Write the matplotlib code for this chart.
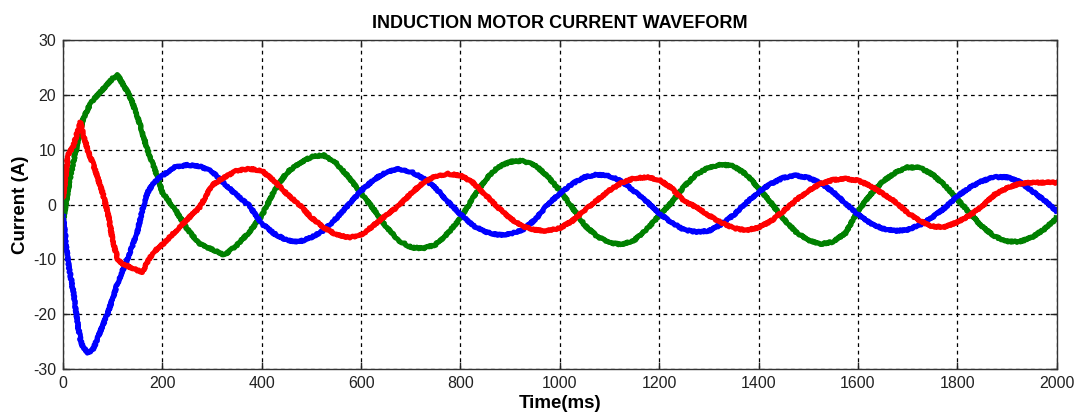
import numpy as np
import matplotlib.pyplot as plt

# sample times (ms), dense during the start-up transient
time_ms = [0, 10, 20, 30, 35, 40, 50, 60, 70, 80, 90, 100, 110, 120, 130,
           140, 150, 160, 170, 180, 190, 200] + list(range(225, 2001, 25))

# phase currents (A)
phase_green = [-3, 2.5, 7.5, 11.5, 13.5, 15.5, 17.5, 19, 20, 21, 22, 23, 23.6,
               22, 20.5, 18.5, 16, 13, 10, 7.5, 5, 2.2,
               -0.8, -4.5, -7.2, -8.2, -9.2, -7.4, -5, -2, 2.5, 5.8, 7.5, 8.7,
               9, 7.5, 5, 2, -0.8, -4, -6.5, -7.8, -8, -7.3, -5.2, -2.5, 1.2,
               4.5, 6.8, 7.8, 8, 7.2, 5.2, 2.5, -0.5, -3.8, -5.8, -7, -7.3,
               -6.5, -4.5, -2, 0.4, 3.3, 5.5, 6.8, 7.3, 7, 5.5, 3, 0.3, -2.6,
               -5, -6.5, -7.2, -6.8, -5.2, -1.2, 1.8, 4.2, 5.8, 6.8, 6.7, 5.5,
               3.5, 1, -1.6, -4, -5.8, -6.7, -6.8, -6, -4.5, -2.5]

phase_blue = [-2, -10.5, -15.5, -22, -24.7, -26, -27, -26.5, -24.3, -22, -19.8,
              -17, -14.3, -12, -9.8, -7.5, -4.8, -0.8, 2.2, 3.6, 4.6, 5.3,
              6.8, 7.2, 7, 6, 3.8, 1.7, -0.2, -3.5, -5.3, -6.5, -6.8, -6,
              -4.7, -2.5, 0, 2.5, 4.5, 5.9, 6.5, 6, 4.8, 3, 0.5, -1.8, -3.8,
              -5, -5.5, -5.4, -4.6, -2.8, 0, 2, 3.8, 5, 5.5, 5.2, 4.2, 2.4,
              0.5, -1.6, -3.3, -4.6, -5, -4.8, -3.6, -1.9, 0.3, 2.3, 3.8, 4.9,
              5.3, 4.9, 3.9, 2.3, 0.2, -1.8, -3.4, -4.4, -4.8, -4.6, -3.7,
              -2.3, -0.6, 1.5, 3.1, 4.3, 5, 5, 4.2, 2.5, 0.8, -1.2]

phase_red = [1.3, 9, 10.5, 13.5, 15, 13, 9.8, 7.5, 4.8, 2, -1.5, -6.5, -10,
             -10.8, -11.2, -11.6, -12, -12.3, -10.5, -9, -8, -7.3,
             -5, -2.7, -0.5, 3.5, 5, 6.2, 6.5, 6.2, 4.3, 2, 0, -2.4, -4.2,
             -5.5, -6, -5.6, -3.8, -2, -0.3, 2, 4, 5.2, 5.6, 5.3, 4, 1.8,
             -0.5, -2.5, -4, -4.6, -4.8, -4.3, -3, -1, 0.8, 2.6, 4, 4.8, 5,
             4.5, 3, 0.6, -0.5, -2, -3.3, -4.3, -4.7, -4.2, -3, -1.2, 0.8,
             2.5, 3.8, 4.5, 4.7, 4.4, 3.4, 2, 0.5, -1.5, -3, -4, -4.1, -3.2,
             -2, -0.3, 1.8, 3, 3.8, 4, 4, 4]

x_ticks = [0, 200, 400, 600, 800, 1000, 1200, 1400, 1600, 1800, 2000]
y_ticks = [-30, -20, -10, 0, 10, 20, 30]

plt.rcParams['font.family'] = ['Liberation Sans', 'DejaVu Sans']
plt.rcParams['axes.unicode_minus'] = False

fig = plt.figure(figsize=(10.76, 4.17), dpi=100)
ax = fig.add_axes([0.0586, 0.115, 0.9234, 0.789])

for values, colour in [(phase_green, '#008000'), (phase_blue, '#0000ff'),
                       (phase_red, '#ff0000')]:
    line, = ax.plot(time_ms, values, color=colour, linewidth=3.6,
                    solid_joinstyle='round')
    line.set_sketch_params(scale=0.8, length=2.0, randomness=3.0)

ax.set_xlim(0, 2000)
ax.set_ylim(-30, 30)
ax.set_xticks(x_ticks)
ax.set_yticks(y_ticks)
ax.tick_params(direction='in', length=5, width=1, top=True, right=True,
               labelsize=11.5, pad=5, colors='#222222')
ax.grid(True, color='black', linestyle=(0, (3, 3)), linewidth=0.9)
for side in ax.spines.values():
    side.set_linewidth(1.0)
    side.set_color('#333333')

ax.set_title('INDUCTION MOTOR CURRENT WAVEFORM', fontsize=13,
             fontweight='bold', pad=9)
ax.set_xlabel('Time(ms)', fontsize=13.5, fontweight='bold', labelpad=3)
ax.set_ylabel('Current (A)', fontsize=13.5, fontweight='bold', labelpad=3)

fig.savefig('out.png', dpi=100, facecolor='white')
